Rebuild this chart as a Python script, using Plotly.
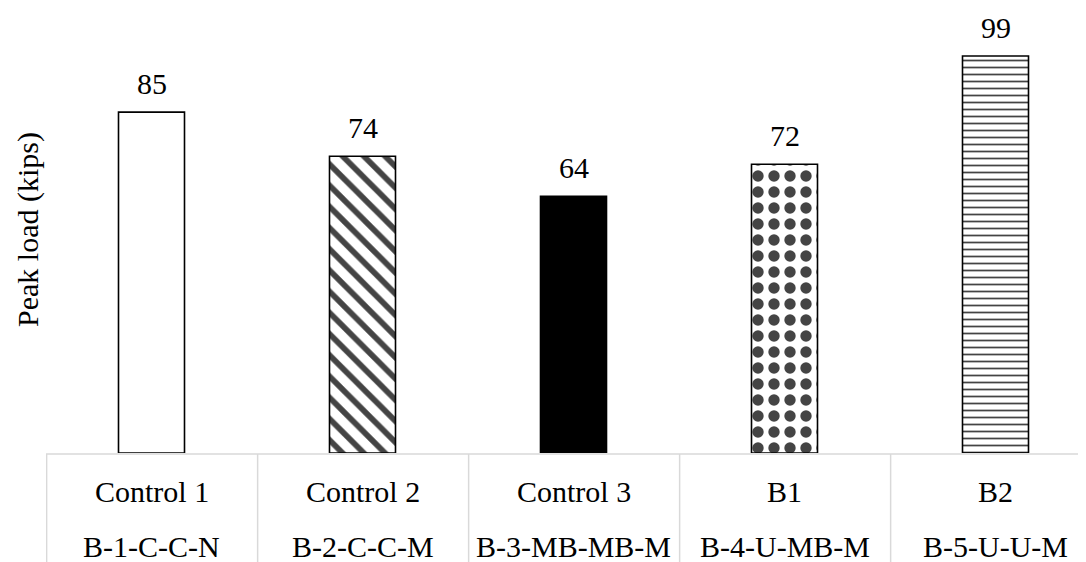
import plotly.graph_objects as go

# Data
categories = ["Control 1", "Control 2", "Control 3", "B1", "B2"]
specimens = ["B-1-C-C-N", "B-2-C-C-M", "B-3-MB-MB-M", "B-4-U-MB-M", "B-5-U-U-M"]
peak_load = [85, 74, 64, 72, 99]

# Styles per bar
fill_colors = ["white", "white", "black", "white", "white"]
pattern_shapes = ["", "\\", "", ".", "-"]
pattern_sizes = [10, 15, 10, 16, 7]
pattern_solid = [0.3, 0.38, 0.3, 0.4, 0.25]

FONT = "Liberation Serif, Times New Roman, Tinos, serif"
FS = 30

# page offset of the figure inside the html body (8px default margin)
OFF = 8
W, H = 1086 - OFF, 562 - OFF
ml, mt, mr = 46 - OFF, 0, 0
baseline = 453 - OFF
mb = H - baseline
plot_w = W - ml - mr
plot_h = H - mb - mt
cat_px = 211.0
px_per_unit = 4.01

x_idx = list(range(len(categories)))

fig = go.Figure()
fig.add_trace(go.Bar(
    x=x_idx,
    y=peak_load,
    width=66 / cat_px,
    marker=dict(
        color=fill_colors,
        line=dict(color="black", width=1.6),
        pattern=dict(shape=pattern_shapes, fgcolor="black", fgopacity=1,
                     size=pattern_sizes, solidity=pattern_solid, fillmode="overlay"),
    ),
    hoverinfo="skip",
))

annotations = []
# value labels
for i, v in zip(x_idx, peak_load):
    annotations.append(dict(x=i, y=v, xref="x", yref="y", text=str(v), showarrow=False,
                            yanchor="middle", yshift=29,
                            font=dict(family=FONT, size=FS, color="black")))
# category table labels
for i, (c, s) in enumerate(zip(categories, specimens)):
    annotations.append(dict(x=i, y=(0 - 39) / plot_h, xref="x", yref="paper", text=c,
                            showarrow=False, yanchor="middle",
                            font=dict(family=FONT, size=FS, color="black")))
    annotations.append(dict(x=i, y=(0 - 93) / plot_h, xref="x", yref="paper", text=s,
                            showarrow=False, yanchor="middle",
                            font=dict(family=FONT, size=FS, color="black")))
# y axis title
annotations.append(dict(x=-18 / plot_w, y=(plot_h - (230 - OFF)) / plot_h, xref="paper", yref="paper",
                        text="Peak load (kips)", textangle=-90, showarrow=False,
                        xanchor="center", yanchor="middle",
                        font=dict(family=FONT, size=FS, color="black")))

shapes = []
grid = "#d9d9d9"
shapes.append(dict(type="line", xref="paper", yref="paper", x0=0, x1=1, y0=-1 / plot_h, y1=-1 / plot_h,
                   line=dict(color=grid, width=1.5)))
for i in range(len(categories)):
    shapes.append(dict(type="line", xref="x", yref="paper", x0=i - 0.5 + 0.003, x1=i - 0.5 + 0.003,
                       y0=-1 / plot_h, y1=-mb / plot_h, line=dict(color=grid, width=1.5)))

x_max = -0.5 + plot_w / cat_px
fig.update_layout(
    width=W, height=H,
    margin=dict(l=ml, r=mr, t=mt, b=mb),
    plot_bgcolor="white", paper_bgcolor="white",
    showlegend=False,
    xaxis=dict(range=[-0.5, x_max], showticklabels=False, showgrid=False, zeroline=False,
               showline=False, ticks=""),
    yaxis=dict(range=[0, plot_h / px_per_unit], visible=False, showgrid=False, zeroline=False),
    annotations=annotations,
    shapes=shapes,
)

fig.write_html("out.html")
